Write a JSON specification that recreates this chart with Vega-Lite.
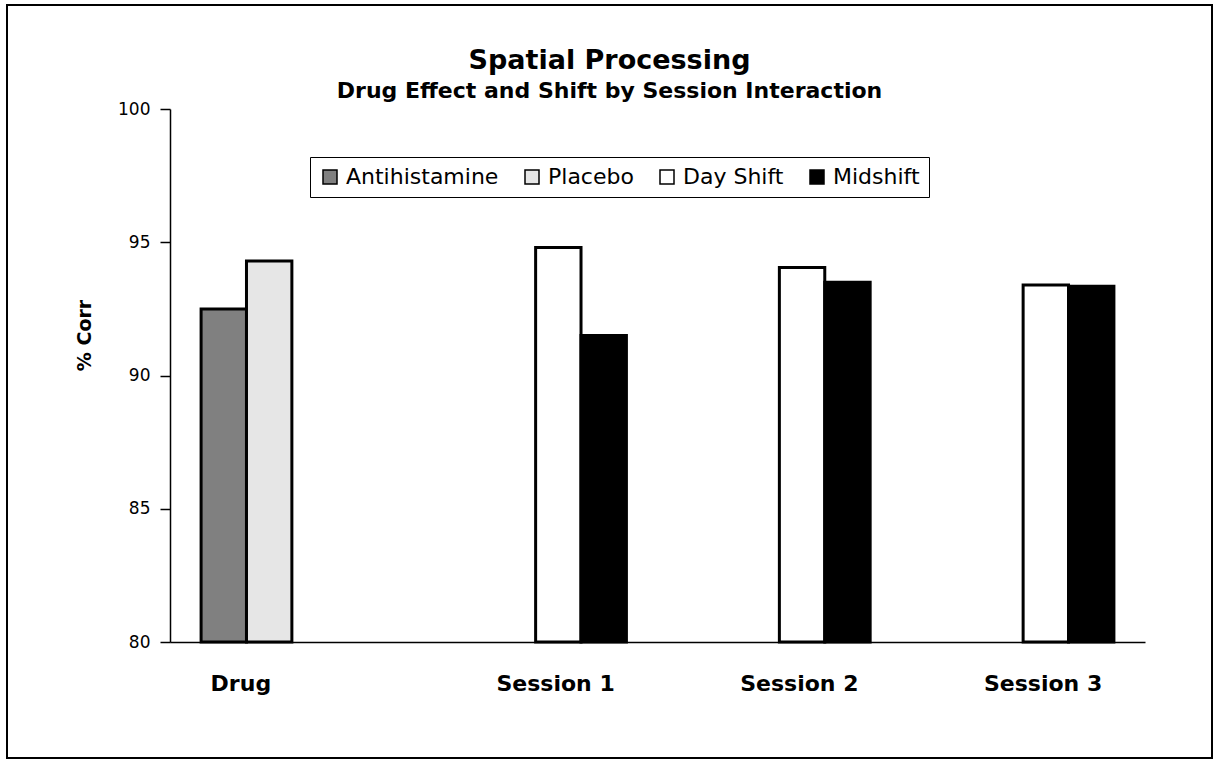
{
  "$schema": "https://vega.github.io/schema/vega-lite/v6.json",
  "width": 1205,
  "height": 753,
  "autosize": {"type": "none"},
  "padding": {"left": 7, "top": 5, "right": 8, "bottom": 4},
  "background": "white",
  "config": {
    "view": {"stroke": "black", "strokeWidth": 2, "fill": "white"}
  },
  "title": {
    "text": "Spatial Processing",
    "subtitle": "Drug Effect and Shift by Session Interaction",
    "anchor": "middle",
    "frame": "group",
    "offset": -98,
    "font": "DejaVu Sans",
    "fontSize": 27,
    "fontWeight": "bold",
    "color": "black",
    "subtitleFont": "DejaVu Sans",
    "subtitleFontSize": 22,
    "subtitleFontWeight": "bold",
    "subtitleColor": "black",
    "subtitlePadding": 6
  },
  "data": {
    "values": [
      {"group": "Drug", "series": "Antihistamine", "value": 92.5},
      {"group": "Drug", "series": "Placebo", "value": 94.3},
      {"group": "Session 1", "series": "Day Shift", "value": 94.8},
      {"group": "Session 1", "series": "Midshift", "value": 91.5},
      {"group": "Session 2", "series": "Day Shift", "value": 94.05},
      {"group": "Session 2", "series": "Midshift", "value": 93.5},
      {"group": "Session 3", "series": "Day Shift", "value": 93.4},
      {"group": "Session 3", "series": "Midshift", "value": 93.35}
    ]
  },
  "mark": {"type": "bar", "stroke": "black", "strokeWidth": 3, "clip": false},
  "encoding": {
    "x": {
      "field": "group",
      "type": "nominal",
      "sort": ["Drug", "Session 1", "Session 2", "Session 3"],
      "scale": {"domain": ["Drug", "Session 1", "Session 2", "Session 3"], "range": [163, 1138], "paddingInner": 0, "paddingOuter": 0},
      "axis": {
        "title": null,
        "labelAngle": 0,
        "ticks": false,
        "domainColor": "black",
        "domainWidth": 1.5,
        "labelFont": "DejaVu Sans",
        "labelFontWeight": "bold",
        "labelFontSize": 22,
        "labelColor": "black",
        "labelPadding": 31,
        "labelOffset": {"condition": {"test": "datum.value === 'Drug'", "value": -51}, "value": 20},
        "offset": -116
      }
    },
    "xOffset": {
      "field": "series",
      "type": "nominal",
      "scale": {"domain": ["Antihistamine", "Placebo", "Day Shift", "Midshift"], "paddingInner": 0, "paddingOuter": 0.685}
    },
    "y": {
      "field": "value",
      "type": "quantitative",
      "stack": null,
      "scale": {"domain": [80, 100], "range": [637, 104], "zero": false, "nice": false},
      "axis": {
        "values": [80, 85, 90, 95, 100],
        "grid": false,
        "title": "% Corr",
        "titleFont": "DejaVu Sans",
        "titleFontWeight": "bold",
        "titleFontSize": 19,
        "titleColor": "black",
        "titleX": -80,
        "titleY": 330,
        "titleAngle": -90,
        "titleAlign": "center",
        "titleBaseline": "alphabetic",
        "labelFont": "DejaVu Sans",
        "labelFontSize": 17,
        "labelColor": "black",
        "labelPadding": 10,
        "tickColor": "black",
        "tickWidth": 1.5,
        "tickSize": 10,
        "domainColor": "black",
        "domainWidth": 1.5,
        "offset": -163
      }
    },
    "y2": {"datum": 80},
    "fill": {
      "field": "series",
      "type": "nominal",
      "scale": {"domain": ["Antihistamine", "Placebo", "Day Shift", "Midshift"], "range": ["#808080", "#e6e6e6", "#ffffff", "#000000"]},
      "legend": {
        "orient": "none",
        "legendX": 303,
        "legendY": 152,
        "direction": "horizontal",
        "columns": 4,
        "title": null,
        "symbolType": "square",
        "symbolSize": 196,
        "symbolStrokeColor": "black",
        "symbolStrokeWidth": 1.5,
        "symbolOpacity": 1,
        "labelFont": "DejaVu Sans",
        "labelFontSize": 22,
        "labelColor": "black",
        "labelOffset": 5,
        "columnPadding": 22,
        "padding": 9,
        "strokeColor": "black",
        "fillColor": "white"
      }
    }
  }
}
